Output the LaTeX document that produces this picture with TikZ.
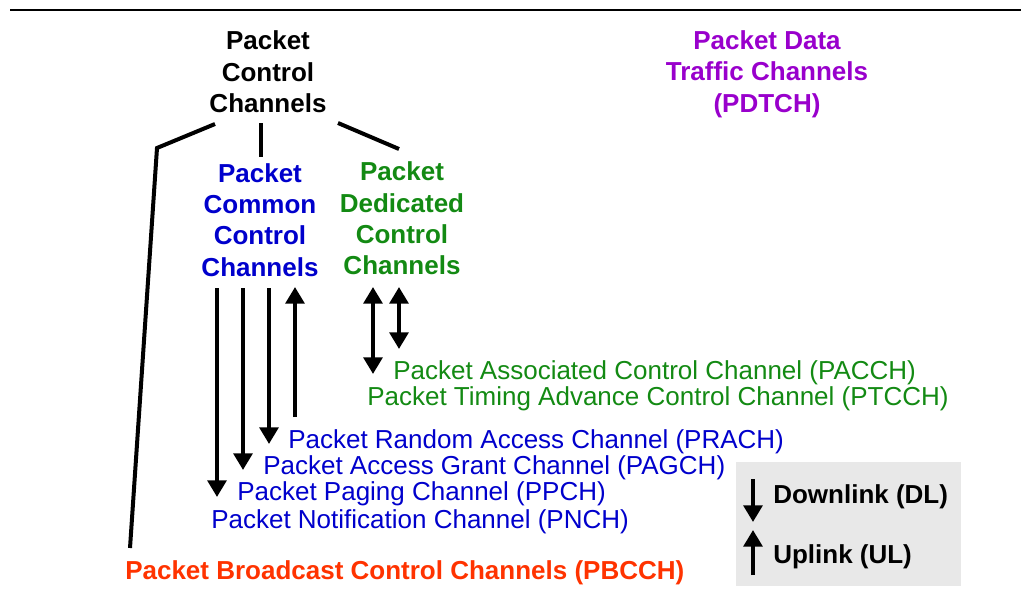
\documentclass[tikz,border=0pt]{standalone}
\usepackage{fontspec}
\setmainfont{Liberation Sans}
\usetikzlibrary{arrows.meta}
\definecolor{pblue}{HTML}{0000CC}
\definecolor{pgreen}{HTML}{138A13}
\definecolor{ppurple}{HTML}{9900CC}
\definecolor{porange}{HTML}{FF3300}
\definecolor{legendgray}{HTML}{E8E8E8}
\tikzset{
  title/.style={font=\bfseries\fontsize{19.5pt}{23.5pt}\selectfont, align=center, inner sep=0pt},
  item/.style={font=\fontsize{19.5pt}{23pt}\selectfont, anchor=west, inner sep=0pt},
  branch/.style={line width=3pt},
  chan/.style={line width=3pt, -{Triangle[width=14pt,length=12.5pt]}},
  chan2/.style={line width=3pt, {Triangle[width=14pt,length=12.5pt]}-{Triangle[width=14pt,length=12.5pt]}},
}
\begin{document}
\begin{tikzpicture}[x=0.75pt,y=-0.75pt]
\useasboundingbox (0,0) rectangle (1021,610);
% top rule
\coordinate (r1) at (10,10);
\coordinate (r2) at (1021,10);
\draw[line width=1.8pt] (r1) -- (r2);

% titles
\node[title] (pcc) at (268,72) {Packet\\Control\\Channels};
\node[title, text=ppurple] (pdtch) at (767,74) {Packet Data\\Traffic Channels\\(PDTCH)};
\node[title, text=pblue] (pccc) at (260,220) {Packet\\Common\\Control\\Channels};
\node[title, text=pgreen] (pdcc) at (402,218.5) {Packet\\Dedicated\\Control\\Channels};

% branch lines
\coordinate (b1a) at (215,124);
\coordinate (b1b) at (157,148);
\coordinate (b1c) at (130,548);
\draw[branch] (b1a) -- (b1b) -- (b1c);
\coordinate (b2a) at (261,123);
\coordinate (b2b) at (261,157);
\draw[branch] (b2a) -- (b2b);
\coordinate (b3a) at (338,123);
\coordinate (b3b) at (399,149);
\draw[branch] (b3a) -- (b3b);

% channel texts
\node[item, text=pgreen] (pacch) at (393,373) {Packet Associated Control Channel (PACCH)};
\node[item, text=pgreen] (ptcch) at (367,399) {Packet Timing Advance Control Channel (PTCCH)};
\node[item, text=pblue] (prach) at (288,442) {Packet Random Access Channel (PRACH)};
\node[item, text=pblue] (pagch) at (263,468) {Packet Access Grant Channel (PAGCH)};
\node[item, text=pblue] (ppch) at (237,494) {Packet Paging Channel (PPCH)};
\node[item, text=pblue] (pnch) at (211,522) {Packet Notification Channel (PNCH)};
\node[title, anchor=west, text=porange] (pbcch) at (125,573) {Packet Broadcast Control Channels (PBCCH)};

% channel arrows
\coordinate (a1s) at (217,288); \coordinate (a1e) at (217,497);
\coordinate (a2s) at (243,288); \coordinate (a2e) at (243,470);
\coordinate (a3s) at (269,288); \coordinate (a3e) at (269,444);
\coordinate (a4s) at (295,417); \coordinate (a4e) at (295,287);
\draw[chan] (a1s) -- (a1e);
\draw[chan] (a2s) -- (a2e);
\draw[chan] (a3s) -- (a3e);
\draw[chan] (a4s) -- (a4e);
\coordinate (d1s) at (373,287); \coordinate (d1e) at (373,374);
\coordinate (d2s) at (399,287); \coordinate (d2e) at (399,349);
\draw[chan2] (d1s) -- (d1e);
\draw[chan2] (d2s) -- (d2e);

% legend
\node[fill=legendgray, minimum width=225*0.75pt, minimum height=124*0.75pt, inner sep=0pt] (legend) at (848.5,524) {};
\coordinate (l1s) at (753,479); \coordinate (l1e) at (753,522);
\coordinate (l2s) at (753,575); \coordinate (l2e) at (753,530);
\draw[chan] (l1s) -- (l1e);
\draw[chan] (l2s) -- (l2e);
\node[title, anchor=west] (dl) at (773,497) {Downlink (DL)};
\node[title, anchor=west] (ul) at (773,557) {Uplink (UL)};
\end{tikzpicture}
\end{document}
